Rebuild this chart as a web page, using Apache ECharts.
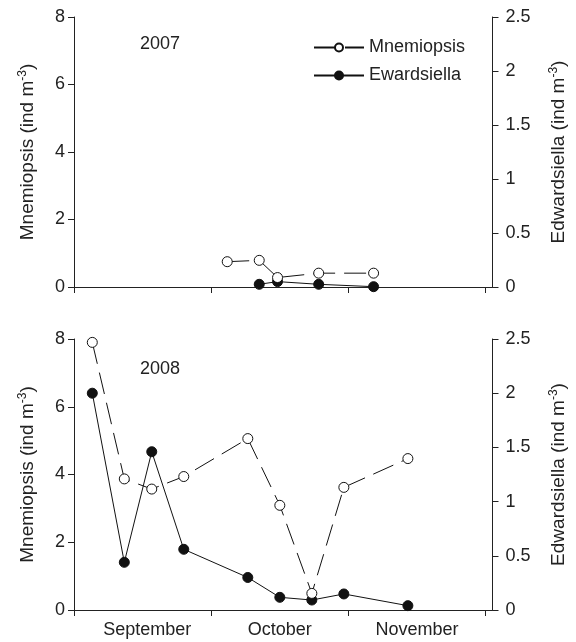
<!DOCTYPE html>
<html>
<head>
<meta charset="utf-8">
<script src="https://cdn.jsdelivr.net/npm/echarts@6/dist/echarts.min.js"></script>
<style>
  html, body { margin: 0; padding: 0; background: #fff; }
  #chart { width: 576px; height: 642px; }
</style>
</head>
<body>
<div id="chart"></div>
<script>
// x = days since 1 September
const monthLabels = ['September', 'October', 'November'];
const monthTicks = [0, 30, 60, 90];
const monthLabelPos = [16, 45, 75];

// 2007
const days2007Mnem = [33.5, 40.5, 44.5, 53.5, 65.5];
const mnem2007 = [0.75, 0.79, 0.28, 0.41, 0.41];
const days2007Edw = [40.5, 44.5, 53.5, 65.5];
const edw2007 = [0.025, 0.05, 0.025, 0.003];

// 2008
const days2008 = [4, 11, 17, 24, 38, 45, 52, 59, 73];
const mnem2008 = [7.9, 3.87, 3.57, 3.94, 5.06, 3.09, 0.49, 3.62, 4.47];
const edw2008 = [2.0, 0.44, 1.46, 0.56, 0.30, 0.117, 0.092, 0.148, 0.04];

const FONT = '"Liberation Sans", Arial, sans-serif';
const INK = '#222';

const pair = (xs, ys) => xs.map((x, i) => [x, ys[i]]);

const chart = echarts.init(document.getElementById('chart'));

function xAxisFor(grid, showLabels) {
  return {
    type: 'value', gridIndex: grid, min: 0, max: 91.5,
    axisLine: { lineStyle: { color: INK, width: 1 } },
    axisTick: { show: true, customValues: monthTicks, length: 6, lineStyle: { color: INK } },
    axisLabel: {
      show: showLabels, customValues: monthLabelPos, margin: 11,
      color: INK, fontSize: 18, fontFamily: FONT,
      formatter: v => monthLabels[monthLabelPos.indexOf(v)]
    },
    splitLine: { show: false }
  };
}

const nameRich = {
  t: { fontSize: 19, fontFamily: FONT, color: INK },
  s: { fontSize: 12, fontFamily: FONT, color: INK, padding: [0, 0, 10, 0] }
};

function yAxisFor(grid, side) {
  const left = side === 'left';
  return {
    type: 'value', gridIndex: grid, position: side,
    min: 0, max: left ? 8 : 2.5, interval: left ? 2 : 0.5,
    name: left ? '{t|Mnemiopsis (ind m}{s|-3}{t|)}' : '{t|Edwardsiella (ind m}{s|-3}{t|)}',
    nameLocation: 'middle', nameRotate: 90, nameGap: left ? 35 : 55,
    nameTextStyle: { rich: nameRich },
    axisLine: { show: true, lineStyle: { color: INK, width: 1 } },
    axisTick: { show: true, length: 6, lineStyle: { color: INK } },
    axisLabel: { color: INK, fontSize: 18, fontFamily: FONT, margin: left ? 9 : 13 },
    splitLine: { show: false }
  };
}

function mnemSeries(xi, yi, data) {
  return {
    name: 'Mnemiopsis', type: 'line', xAxisIndex: xi, yAxisIndex: yi,
    data: data, symbol: 'circle', symbolSize: 10,
    itemStyle: { color: '#fff', borderColor: '#111', borderWidth: 1 },
    lineStyle: { color: '#111', width: 1, type: [22, 9] },
    z: 3
  };
}

function edwSeries(xi, yi, data) {
  return {
    name: 'Ewardsiella', type: 'line', xAxisIndex: xi, yAxisIndex: yi,
    data: data, symbol: 'circle', symbolSize: 10,
    itemStyle: { color: '#111', borderColor: '#111', borderWidth: 1 },
    lineStyle: { color: '#111', width: 1 },
    z: 2
  };
}

const option = {
  animation: false,
  backgroundColor: '#fff',
  grid: [
    { left: 74, right: 82, top: 17, height: 270 },
    { left: 74, right: 82, top: 339, height: 271 }
  ],
  legend: {
    data: ['Mnemiopsis', 'Ewardsiella'],
    orient: 'vertical', left: 308, top: 33,
    itemWidth: 50, itemHeight: 10, itemGap: 9,
    textStyle: { color: INK, fontSize: 18, fontFamily: FONT, lineHeight: 19 }
  },
  graphic: [
    { type: 'text', left: 140, top: 35, style: { text: '2007', fontSize: 18, fontFamily: FONT, fill: INK } },
    { type: 'text', left: 140, top: 360, style: { text: '2008', fontSize: 18, fontFamily: FONT, fill: INK } }
  ],
  xAxis: [xAxisFor(0, false), xAxisFor(1, true)],
  yAxis: [yAxisFor(0, 'left'), yAxisFor(0, 'right'), yAxisFor(1, 'left'), yAxisFor(1, 'right')],
  series: [
    mnemSeries(0, 0, pair(days2007Mnem, mnem2007)),
    edwSeries(0, 1, pair(days2007Edw, edw2007)),
    mnemSeries(1, 2, pair(days2008, mnem2008)),
    edwSeries(1, 3, pair(days2008, edw2008))
  ]
};

chart.setOption(option);
</script>
</body>
</html>
